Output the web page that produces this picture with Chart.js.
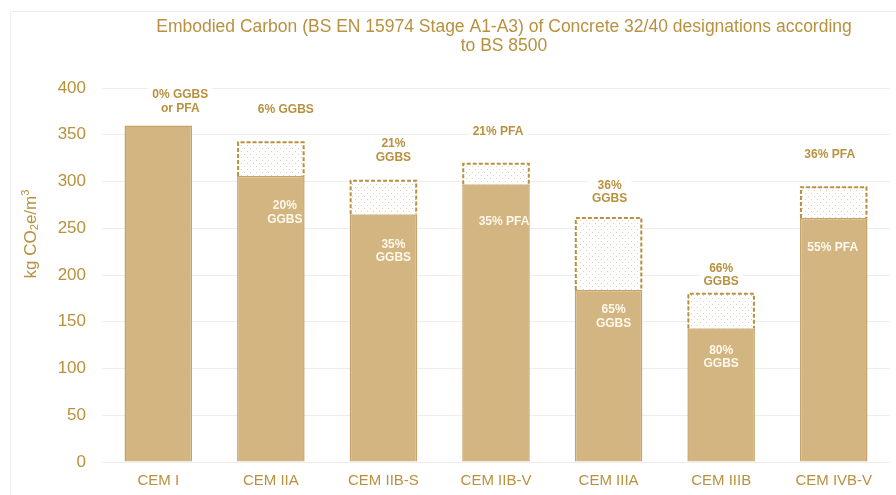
<!DOCTYPE html>
<html>
<head>
<meta charset="utf-8">
<script src="https://cdn.jsdelivr.net/npm/chart.js@4.4.1/dist/chart.umd.min.js"></script>
<style>
  html, body { margin: 0; padding: 0; background: #ffffff; }
  canvas { display: block; }
</style>
</head>
<body>
<canvas id="chart" width="896" height="495"></canvas>
<script>
// Cement designations along the x axis
const categories = ['CEM I', 'CEM IIA', 'CEM IIB-S', 'CEM IIB-V', 'CEM IIIA', 'CEM IIIB', 'CEM IVB-V'];
// Embodied carbon at the higher replacement level (solid bars), kg CO2e/m3
const solidValues = [360, 306, 265, 297, 184, 143, 261];
// Embodied carbon at the lower replacement level (top of the dotted part)
const lowerReplacementValues = [null, 343, 302, 320, 262, 181, 295];
// Replacement share written above each bar
const upperLabels = [['0% GGBS', 'or PFA'], ['6% GGBS'], ['21%', 'GGBS'], ['21% PFA'], ['36%', 'GGBS'], ['66%', 'GGBS'], ['36% PFA']];
// Replacement share written inside each solid bar
const innerLabels = [[], ['20%', 'GGBS'], ['35%', 'GGBS'], ['35% PFA'], ['65%', 'GGBS'], ['80%', 'GGBS'], ['55% PFA']];
// Value axis ticks
const yTicks = [0, 50, 100, 150, 200, 250, 300, 350, 400];

const GOLD = '#B8913F';
const BAR_FILL = '#D3B581';
const BAR_EDGE = '#C6A266';
const FONT = '"Liberation Sans", Arial, sans-serif';

// Light dotted fill used for the lower-replacement extension
function makeDotPattern() {
  const c = document.createElement('canvas');
  c.width = 6; c.height = 6;
  const g = c.getContext('2d');
  g.fillStyle = '#ffffff';
  g.fillRect(0, 0, 6, 6);
  g.fillStyle = 'rgba(196,164,110,0.55)';
  g.fillRect(1, 1, 1, 1);
  g.fillRect(4, 4, 1, 1);
  return g.createPattern(c, 'repeat');
}

// Page frame and white background
const framePlugin = {
  id: 'frame',
  beforeDraw(chart) {
    const ctx = chart.ctx;
    ctx.save();
    ctx.fillStyle = '#ffffff';
    ctx.fillRect(0, 0, chart.width, chart.height);
    ctx.strokeStyle = '#EEEEEE';
    ctx.lineWidth = 1;
    ctx.beginPath();
    ctx.moveTo(10.5, chart.height);
    ctx.lineTo(10.5, 11.5);
    ctx.lineTo(chart.width, 11.5);
    ctx.stroke();
    ctx.restore();
  }
};

// Two-line heading centred over the plot area
const headingPlugin = {
  id: 'heading',
  afterDraw(chart, args, opts) {
    const ctx = chart.ctx;
    const a = chart.chartArea;
    const cx = (a.left + a.right) / 2 + opts.shiftX;
    ctx.save();
    ctx.fillStyle = GOLD;
    ctx.font = opts.size + 'px ' + FONT;
    ctx.textAlign = 'center';
    ctx.textBaseline = 'middle';
    opts.lines.forEach((t, i) => ctx.fillText(t, cx, opts.top + i * opts.lineHeight));
    ctx.restore();
  }
};

// Rotated value-axis caption with sub/superscript digits
const yCaptionPlugin = {
  id: 'yCaption',
  afterDraw(chart, args, opts) {
    const ctx = chart.ctx;
    ctx.save();
    ctx.translate(opts.x, opts.y);
    ctx.rotate(-Math.PI / 2);
    ctx.fillStyle = GOLD;
    ctx.textBaseline = 'middle';
    const big = opts.size + 'px ' + FONT;
    const small = Math.round(opts.size * 0.65) + 'px ' + FONT;
    const parts = [
      { t: 'kg CO', f: big, dy: 0 },
      { t: '2', f: small, dy: 4 },
      { t: 'e/m', f: big, dy: 0 },
      { t: '3', f: small, dy: -5 }
    ];
    let total = 0;
    parts.forEach(p => { ctx.font = p.f; p.w = ctx.measureText(p.t).width; total += p.w; });
    let x = -total / 2;
    parts.forEach(p => { ctx.font = p.f; ctx.fillText(p.t, x, p.dy); x += p.w; });
    ctx.restore();
  }
};

// Dashed outline around each dotted extension
const dashedOutlinePlugin = {
  id: 'dashedOutline',
  afterDatasetsDraw(chart) {
    const meta = chart.getDatasetMeta(1);
    const ctx = chart.ctx;
    ctx.save();
    ctx.strokeStyle = GOLD;
    ctx.lineWidth = 2;
    ctx.setLineDash([4, 2]);
    meta.data.forEach((bar, i) => {
      if (lowerReplacementValues[i] == null) return;
      const p = bar.getProps(['x', 'y', 'base', 'width'], true);
      const l = p.x - p.width / 2 + 1, r = p.x + p.width / 2 - 1;
      ctx.beginPath();
      ctx.moveTo(l, p.base);
      ctx.lineTo(l, p.y + 1);
      ctx.lineTo(r, p.y + 1);
      ctx.lineTo(r, p.base);
      ctx.stroke();
    });
    ctx.restore();
  }
};

// Percentage annotations above and inside the bars
const shareLabelPlugin = {
  id: 'shareLabels',
  afterDatasetsDraw(chart, args, opts) {
    const ctx = chart.ctx;
    const solidMeta = chart.getDatasetMeta(0);
    const extMeta = chart.getDatasetMeta(1);
    const lh = opts.lineHeight;
    ctx.save();
    ctx.font = 'bold ' + opts.size + 'px ' + FONT;
    ctx.textAlign = 'center';
    ctx.textBaseline = 'middle';
    categories.forEach((c, i) => {
      const solid = solidMeta.data[i];
      const ext = extMeta.data[i];
      const topY = lowerReplacementValues[i] == null ? solid.y : ext.y;
      // label above the bar
      const up = upperLabels[i];
      const ux = solid.x + opts.upperDx[i];
      const lastY = topY - opts.upperGap + opts.upperDy[i] - (up.length === 1 ? lh : 0);
      const firstY = lastY - (up.length - 1) * lh;
      let w = 0;
      up.forEach(t => { w = Math.max(w, ctx.measureText(t).width); });
      ctx.fillStyle = '#ffffff';
      ctx.fillRect(ux - w / 2 - 4, firstY - lh / 2 - 1, w + 8, up.length * lh + 2);
      ctx.fillStyle = GOLD;
      up.forEach((t, k) => ctx.fillText(t, ux, firstY + k * lh));
      // label inside the solid bar
      const inn = innerLabels[i];
      const ix = solid.x + opts.innerDx[i];
      const iy = solid.y + opts.innerGap + opts.innerDy[i];
      ctx.fillStyle = '#FFF8EC';
      inn.forEach((t, k) => ctx.fillText(t, ix, iy + k * lh));
    });
    ctx.restore();
  }
};

const ctx = document.getElementById('chart').getContext('2d');
new Chart(ctx, {
  type: 'bar',
  data: {
    labels: categories,
    datasets: [
      {
        label: 'Higher replacement',
        data: solidValues,
        backgroundColor: BAR_FILL,
        borderColor: BAR_EDGE,
        borderWidth: 1.5,
        grouped: false,
        order: 2
      },
      {
        label: 'Lower replacement',
        data: lowerReplacementValues.map((v, i) => v == null ? null : [solidValues[i], v]),
        backgroundColor: makeDotPattern(),
        borderWidth: 0,
        grouped: false,
        order: 1
      }
    ]
  },
  options: {
    responsive: false,
    devicePixelRatio: 1,
    animation: false,
    layout: { padding: { top: 88, right: 6, bottom: 0, left: 0 } },
    datasets: { bar: { categoryPercentage: 1, barPercentage: 0.6 } },
    plugins: {
      legend: { display: false },
      title: { display: false },
      tooltip: { enabled: false },
      heading: {
        lines: ['Embodied Carbon (BS EN 15974 Stage A1-A3) of Concrete 32/40 designations according', 'to BS 8500'],
        size: 17.5, top: 27, lineHeight: 19, shiftX: 8
      },
      yCaption: { x: 31, y: 234, size: 17 },
      shareLabels: {
        size: 12, lineHeight: 13.5,
        upperGap: 18, innerGap: 30,
        upperDx: [22, 15, 10, 2, 1, 0, -4],
        upperDy: [1, 0, -4, 0, 0, 7, 0],
        innerDx: [0, 14, 10, 8, 5, 0, -1],
        innerDy: [0, 0, 0, 7, -10, -8, 0]
      }
    },
    scales: {
      x: {
        grid: { display: false },
        border: { display: false },
        ticks: { color: GOLD, font: { family: FONT, size: 15 }, padding: 2 },
        afterFit(scale) { scale.height = 33; }
      },
      y: {
        min: 0, max: 400,
        afterBuildTicks(scale) { scale.ticks = yTicks.map(v => ({ value: v })); },
        grid: { color: '#EDEDED', lineWidth: 1, drawTicks: false },
        border: { display: false },
        ticks: { color: GOLD, font: { family: FONT, size: 17 }, padding: 16 },
        afterFit(scale) { scale.width = 102; }
      }
    }
  },
  plugins: [framePlugin, headingPlugin, yCaptionPlugin, dashedOutlinePlugin, shareLabelPlugin]
});
</script>
</body>
</html>
